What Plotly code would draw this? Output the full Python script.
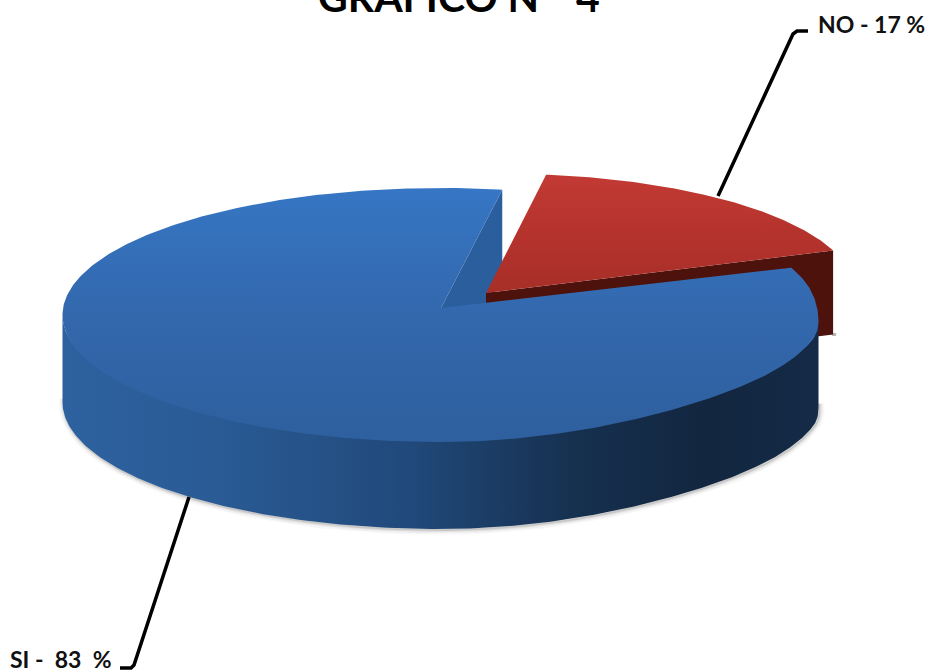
import numpy as np
import plotly.graph_objects as go

# Data
categories = ["SI", "NO"]
values = [83, 17]
title_text = "GRAFICO N°  4"
label_texts = ["SI -  83  %", "NO - 17 %"]

# Projection of the tilted pie, in page pixels
W, H = 929, 671
START = 80.6          # angle at which the NO slice begins, going clockwise
BLUE_C = (440.5, 315.0)
RED_C = (486.0, 298.0)
BLUE_APEX = (441.0, 308.0)
RED_APEX = (486.0, 293.0)
RX, RY = 378.0, 127.0
RED_RX, RED_RY = 368.0, 125.0
DEPTH = 87.0
EDGE_TRIM = 2.5

sweep_no = values[1] / sum(values) * 360.0
END = START - sweep_no


def arc(c, rx, ry, a0, a1, n=160, dy=0.0):
    t = np.radians(np.linspace(a0, a1, n))
    return c[0] + rx * np.cos(t), c[1] - ry * np.sin(t) + dy


def blue_arc(a0, a1, n=240, dy=0.0):
    """Disc rim with the slight perspective flattening of the front right."""
    a = np.linspace(a0, a1, n)
    x, y = arc(BLUE_C, RX, RY, a0, a1, n=n, dy=dy)
    w = (a + 180.0) % 360.0 - 180.0
    flat = np.where((w < 0) & (w > -90), np.sin(np.radians(2 * w)) ** 2, 0.0)
    y = y - 6.0 * flat + 6.0 * np.exp(-((w + 2.0) / 10.0) ** 2)
    return x, y


def poly(fig, x, y, color=None, grad=None):
    x = list(x) + [x[0]]
    y = list(y) + [y[0]]
    d = dict(x=x, y=y, mode="lines", fill="toself", hoverinfo="skip",
             line=dict(width=0, color="rgba(0,0,0,0)"), showlegend=False)
    if grad:
        d["fillgradient"] = grad
    else:
        d["fillcolor"] = color
    fig.add_trace(go.Scatter(**d))


def vgrad(scale, a, b):
    return dict(type="vertical", colorscale=scale, start=a, stop=b)


def hgrad(scale, a, b):
    return dict(type="horizontal", colorscale=scale, start=a, stop=b)


fig = go.Figure()

# soft shadow round the disc
sx0, sy0 = blue_arc(178, 362, dy=DEPTH)
for w, a in [(10, 0.035), (7, 0.05), (4, 0.08), (2, 0.14)]:
    fig.add_trace(go.Scatter(x=sx0 + 1, y=sy0 + 1, mode="lines", hoverinfo="skip", showlegend=False,
                             line=dict(color=f"rgba(60,60,60,{a})", width=w)))

# inner cut wall of the SI slice
tx, ty = arc(BLUE_C, RX, RY, START, START, n=1)
poly(fig, [BLUE_APEX[0], tx[0], tx[0], BLUE_APEX[0]],
     [BLUE_APEX[1], ty[0], ty[0] + DEPTH, BLUE_APEX[1] + DEPTH], color="#2a5e9c")

# NO slice: walls then top
ex, ey = arc(RED_C, RED_RX, RED_RY, END, END, n=1)
ex0, ey0 = ex[0], ey[0] - 6
red_depth = DEPTH - 3
fig.add_trace(go.Scatter(x=[ex0 - 1, ex0 + 3], y=[ey0 + red_depth, ey0 + red_depth], mode="lines", hoverinfo="skip",
                         showlegend=False, line=dict(color="rgba(90,90,90,0.45)", width=3)))
poly(fig, [RED_APEX[0], ex0, ex0, RED_APEX[0]],
     [RED_APEX[1], ey0, ey0 + red_depth, RED_APEX[1] + red_depth], color="#4e120c")
rx_, ry_ = arc(RED_C, RED_RX, RED_RY, START, END)
ry_ = ry_ - np.linspace(0, 6, len(ry_))
poly(fig, [RED_APEX[0], *rx_], [RED_APEX[1], *ry_],
     grad=vgrad([[0, "#c23a33"], [0.55, "#b3322c"], [1, "#a62e28"]], 173, 300))

# SI slice: outer wall then top
wx, wy = blue_arc(180, 360, n=300)
lift = 3.0 * np.abs(np.sin(np.radians(np.linspace(180, 360, 300))))
poly(fig, [*wx, *wx[::-1]], [*(wy - lift), *(wy[::-1] + DEPTH)],
     grad=hgrad([[0, "#2d619f"], [0.2, "#2a5b95"], [0.45, "#214a7c"], [0.68, "#16304f"],
                 [0.85, "#12263f"], [1, "#142a46"]], 62, 818))
bx, by = blue_arc(START, END + EDGE_TRIM + 360, n=480)
poly(fig, [BLUE_APEX[0], *bx], [BLUE_APEX[1], *by],
     grad=vgrad([[0, "#3676c4"], [0.5, "#3368ad"], [1, "#2e5f9e"]], 188, 442))

# leader lines
fig.add_trace(go.Scatter(x=[718, 793, 797, 808], y=[196, 34, 31, 31], mode="lines", hoverinfo="skip",
                         showlegend=False, line=dict(color="#000000", width=3.5)))
fig.add_trace(go.Scatter(x=[189, 134, 131, 120], y=[497, 665, 668, 668], mode="lines", hoverinfo="skip",
                         showlegend=False, line=dict(color="#000000", width=3.5)))

FONT = "Lato, Carlito, 'Open Sans', sans-serif"
ann = [
    dict(x=459, y=22, text=f"<b>{title_text}</b>", yanchor="bottom", xanchor="center",
         font=dict(size=41, color="#000000", family=FONT)),
    dict(x=926, y=24, text=f"<b>{label_texts[1]}</b>", yanchor="middle", xanchor="right",
         font=dict(size=23, color="#111111", family=FONT)),
    dict(x=9, y=659, text=f"<b>{label_texts[0]}</b>", yanchor="middle", xanchor="left",
         font=dict(size=23, color="#111111", family=FONT)),
]
for a in ann:
    a.update(xref="x", yref="y", showarrow=False, borderpad=0)

fig.update_layout(
    width=W, height=H, autosize=False,
    margin=dict(l=0, r=0, t=0, b=0),
    paper_bgcolor="#ffffff", plot_bgcolor="#ffffff",
    showlegend=False, annotations=ann,
    xaxis=dict(range=[0, W], visible=False, fixedrange=True),
    yaxis=dict(range=[H, 0], visible=False, fixedrange=True),
)
fig.write_html("out.html", config={"displayModeBar": False},
               post_script="document.body.style.margin='0';document.body.style.overflow='hidden';")
